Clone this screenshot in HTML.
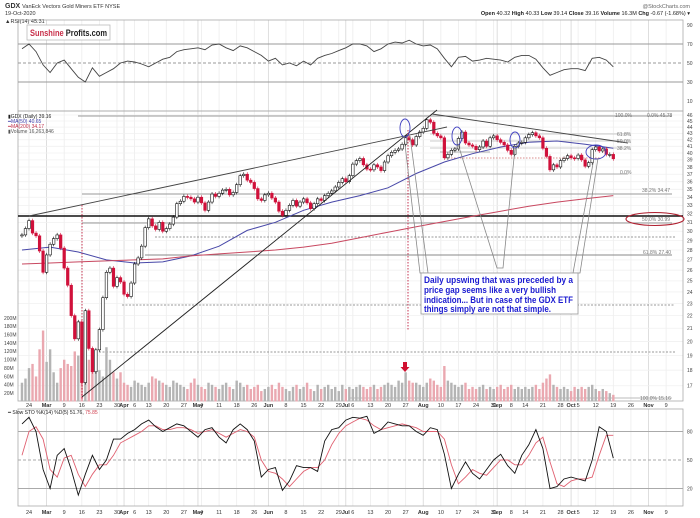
<!DOCTYPE html>
<html><head><meta charset="utf-8"><title>GDX chart</title>
<style>
html,body{margin:0;padding:0;background:#fff;}
svg{display:block;font-family:"Liberation Sans",sans-serif;}
</style></head>
<body>
<svg id="chart" width="700" height="518" viewBox="0 0 700 518" xmlns="http://www.w3.org/2000/svg">
  <rect x="0" y="0" width="700" height="518" fill="#fff"/>
  <g id="grid"></g>
  <text x="5" y="8" font-size="7" font-weight="bold" fill="#333">GDX <tspan font-weight="normal" font-size="5.5">VanEck Vectors Gold Miners ETF  NYSE</tspan></text>
  <text x="5" y="15" font-size="5.5" fill="#333">19-Oct-2020</text>
  <text x="690" y="8" font-size="5.5" fill="#666" text-anchor="end">@StockCharts.com</text>
  <text x="690" y="15" font-size="5.5" fill="#222" text-anchor="end"><tspan font-weight="bold">Open</tspan> 40.32 <tspan font-weight="bold">High</tspan> 40.33 <tspan font-weight="bold">Low</tspan> 39.14 <tspan font-weight="bold">Close</tspan> 39.16 <tspan font-weight="bold">Volume</tspan> 16.3M <tspan font-weight="bold">Chg</tspan> -0.67 (-1.68%) ▾</text>
  <text x="5" y="23" font-size="5.5" fill="#333">▲RSI(14) 45.31</text>
  <rect x="18" y="20" width="665" height="91" fill="none" stroke="#aaa" stroke-width="0.8"/>
  <rect x="18" y="111" width="665" height="290" fill="none" stroke="#aaa" stroke-width="0.8"/>
  <rect x="18" y="409" width="665" height="97" fill="none" stroke="#aaa" stroke-width="0.8"/>
  <g>
    <rect x="27" y="25" width="83" height="15" fill="#fff" stroke="#bbb" stroke-width="0.8"/>
    <text x="30" y="36" font-size="9" font-weight="bold" fill="#222" textLength="77" lengthAdjust="spacingAndGlyphs"><tspan fill="#c8304a">Sunshine</tspan> Profits.com</text>
  </g>
  <g id="rsi"></g>
  <g id="annotBack">
    <line x1="78" y1="116" x2="672" y2="116" stroke="#999" stroke-width="1"/>
    <line x1="82" y1="194" x2="672" y2="194" stroke="#999" stroke-width="1"/>
    <line x1="18" y1="216" x2="683" y2="216" stroke="#111" stroke-width="1.6"/>
    <line x1="82" y1="223" x2="672" y2="223" stroke="#999" stroke-width="1"/>
    <line x1="155" y1="237" x2="675" y2="237" stroke="#999" stroke-width="1" stroke-dasharray="2,1.5"/>
    <line x1="145" y1="255" x2="672" y2="255" stroke="#888" stroke-width="1"/>
    <line x1="122" y1="305" x2="675" y2="305" stroke="#999" stroke-width="1" stroke-dasharray="2,1.5"/>
    <line x1="92" y1="352" x2="675" y2="352" stroke="#999" stroke-width="1" stroke-dasharray="2,1.5"/>
    <line x1="350" y1="398" x2="672" y2="398" stroke="#bbb" stroke-width="1"/>
    <line x1="430" y1="134" x2="628" y2="134" stroke="#bbb" stroke-width="0.8"/>
    <line x1="430" y1="141" x2="628" y2="141" stroke="#bbb" stroke-width="0.8"/>
    <line x1="430" y1="148" x2="628" y2="148" stroke="#bbb" stroke-width="0.8"/>
    <line x1="440" y1="152" x2="490" y2="152" stroke="#999" stroke-width="0.8"/>
    <line x1="445" y1="158" x2="600" y2="158" stroke="#c66" stroke-width="0.8" stroke-dasharray="1.5,1.5"/>
    <line x1="440" y1="174" x2="628" y2="174" stroke="#999" stroke-width="0.8"/>
  </g>
  <g id="vol"></g>
  <g id="ma"></g>
  <g id="candles"></g>
  <g id="sto"></g>
  <g id="axes"></g>
  <g font-size="5">
    <text x="8" y="118" fill="#222">▮GDX (Daily) 39.16</text>
    <text x="8" y="123" fill="#3a3aa8">━MA(50) 40.65</text>
    <text x="8" y="128" fill="#c0304a">━MA(200) 34.17</text>
    <text x="8" y="133" fill="#555">▮Volume 16,263,846</text>
  </g>
  <text x="8" y="414" font-size="5" fill="#222">━ Slow STO %K(14) %D(5) 51.76, <tspan fill="#d04050">75.85</tspan></text>
  <g fill="none">
    <line x1="29" y1="216" x2="447" y2="127" stroke="#444" stroke-width="0.9"/>
    <line x1="82" y1="397" x2="437" y2="110" stroke="#222" stroke-width="0.9"/>
    <line x1="432" y1="114" x2="628" y2="143" stroke="#444" stroke-width="0.9"/>
    <line x1="82" y1="205" x2="82" y2="400" stroke="#c02040" stroke-width="0.9" stroke-dasharray="1.5,1.5"/>
    <line x1="408" y1="130" x2="408" y2="330" stroke="#c02040" stroke-width="0.9" stroke-dasharray="1.5,1.5"/>
  </g>
  <g fill="none" stroke="#4040c0" stroke-width="0.9">
    <ellipse cx="405" cy="128" rx="5" ry="9"/>
    <ellipse cx="457" cy="136" rx="5" ry="9"/>
    <ellipse cx="515" cy="140" rx="5" ry="8"/>
    <ellipse cx="596" cy="152" rx="10" ry="7"/>
  </g>
  <g fill="none" stroke="#888" stroke-width="0.8">
    <polyline points="404,136 420,273 428,273 410,136"/>
    <polyline points="458,144 497,268 503,268 515,148"/>
    <polyline points="594,158 573,273 580,273 598,158"/>
  </g>
  <g font-size="5" fill="#777">
    <text x="615" y="117">100.0%</text><text x="647" y="117">0.0% 45.78</text>
    <text x="617" y="136">61.8%</text><text x="617" y="143">50.0%</text><text x="617" y="150">38.2%</text>
    <text x="620" y="174">0.0%</text>
    <text x="642" y="192">38.2% 34.47</text>
    <text x="642" y="221">50.0% 30.99</text>
    <text x="643" y="254">61.8% 27.40</text>
    <text x="640" y="400">100.0% 15.16</text>
  </g>
  <ellipse cx="655" cy="219" rx="29" ry="6.5" fill="none" stroke="#b02030" stroke-width="1.1"/>
  <g>
    <rect x="421" y="273" width="157" height="41" fill="#fff" stroke="#999" stroke-width="0.8"/>
    <g font-size="9.3" font-weight="bold" fill="#1a1ad0">
      <text x="424" y="283" textLength="149" lengthAdjust="spacingAndGlyphs">Daily upswing that was preceded by a</text>
      <text x="424" y="293" textLength="132" lengthAdjust="spacingAndGlyphs">price gap seems like a very bullish</text>
      <text x="424" y="303" textLength="149" lengthAdjust="spacingAndGlyphs">indication... But in case of the GDX ETF</text>
      <text x="424" y="312" textLength="127" lengthAdjust="spacingAndGlyphs">things simply are not that simple.</text>
    </g>
  </g>
  <path d="M403,362 h4 v5 h2.5 l-4.5,5 l-4.5,-5 h2.5 z" fill="#d01030"/>
</svg>
<script>
const closes=[29.6,30.3,
31.2,29.8,29.5,27.9,25.8,
27.5,28.6,29.2,29.6,28.2,
26.2,24.6,22.0,20.2,21.5,
17.2,22.4,19.5,17.9,19.4,
20.9,23.5,25.8,26.2,24.5,
25.3,24.9,23.8,23.6,24.8,
26.6,27.2,28.4,30.4,
31.4,30.6,30.2,31.0,30.0,
30.3,30.8,31.6,33.2,33.5,
34.1,34.0,33.8,33.4,34.0,
33.3,32.4,33.4,34.4,34.1,
34.5,34.9,35.0,34.3,34.6,
35.6,36.8,37.0,36.2,35.9,
35.1,33.8,33.6,34.3,
34.5,33.9,33.4,32.3,31.8,
32.4,33.0,33.6,32.9,33.4,
33.8,33.3,32.6,33.2,33.8,
33.6,34.2,34.5,34.8,35.3,
35.9,36.4,36.0,36.8,
38.4,38.9,39.2,38.3,37.7,
37.6,38.3,38.0,37.5,38.7,
39.6,40.1,40.4,40.6,41.3,
42.3,42.0,41.2,42.5,43.2,
43.8,45.2,44.8,43.0,42.6,
42.3,39.3,39.8,40.4,40.6,
42.2,43.2,41.5,41.2,41.0,
40.5,40.9,41.8,41.0,42.3,
42.6,42.0,41.6,41.2,40.4,
39.8,41.0,41.5,41.6,
42.3,42.8,43.1,42.6,42.3,
40.7,39.5,37.6,38.3,38.0,
38.9,39.2,39.6,39.3,39.2,
39.7,39.0,38.1,38.6,40.5,
40.9,40.3,40.6,39.8,39.8,
39.16];
const volumes=[45,55,
80,90,60,125,170, 95,125,70,45,80, 100,90,85,120,110, 95,110,100,120,95,
75,60,130,100,70, 55,70,45,40,35, 50,45,40,35, 45,60,55,50,45, 40,35,50,45,40,
35,30,45,55,40, 35,30,45,40,35, 30,40,45,35,30, 50,45,35,40,30, 35,40,25,30,
35,40,30,45,35, 30,25,35,40,30, 35,45,30,25,40, 30,35,40,30,35, 25,40,30,35,
30,35,40,35,30, 35,40,30,35,40, 45,40,35,50,45, 70,50,45,45,40, 35,45,55,50,40,
35,85,50,45,40, 35,40,45,30,35, 30,35,40,30,35, 30,35,40,30,35, 40,30,35,30,
35,30,35,40,30, 45,55,65,40,35, 30,35,30,25,35, 30,35,30,35,40, 30,25,30,25,20, 16];
const rsiVals=[65,70,62,48,40,50,53,44,35,30,45,36,40,44,50,52,51,49,46,50,54,56,62,64,65,66,64,69,70,66,63,68,66,62,58,52,55,48,50,47,52,48,55,58,60,63,66,70,70,68,62,65,70,72,71,74,70,68,69,65,55,46,56,57,52,53,55,54,53,51,56,58,58,54,45,37,40,43,44,44,42,55,56,53,46];
const stoK=[88,95,80,40,20,55,62,40,13,35,55,40,50,72,72,78,82,88,92,85,80,84,88,86,80,74,82,84,74,68,82,88,82,70,32,40,42,18,28,44,42,42,38,70,82,84,92,95,94,96,78,82,90,88,86,86,80,76,84,82,56,20,35,48,36,30,40,50,56,44,36,55,66,82,62,20,22,30,32,30,28,50,85,80,52];
const stoD=[55,80,85,72,40,32,52,55,35,22,35,45,45,55,68,72,76,80,86,86,82,82,84,84,82,78,80,82,78,74,78,82,80,74,50,38,36,30,22,30,38,42,42,50,66,78,86,90,94,92,86,82,84,86,88,86,84,80,80,80,72,45,25,32,40,36,34,42,50,50,45,45,55,68,74,48,25,22,28,30,30,32,55,76,76];
const ma50=[28.0,28.3,27.8,27.0,26.7,26.8,27.4,28.4,30.1,31.0,32.4,33.4,34.2,35.2,37.1,38.7,39.9,40.9,41.6,41.8,41.3,40.7];
const ma200=[26.6,26.7,26.8,26.9,27.0,27.1,27.4,27.6,27.8,28.0,28.3,28.7,29.3,29.9,30.5,31.1,31.7,32.3,32.9,33.4,33.8,34.2];
const priceTicks=[46,45,44,43,42,41,40,39,38,37,36,35,34,33,32,31,30,29,28,27,26,25,24,23,22,21,20,19,18,17];
const volTicks=[200,180,160,140,120,100,80,60,40,20];
const rsiTicks=[90,70,50,30,10];
const stoTicks=[80,50,20];

const NS='http://www.w3.org/2000/svg';
function el(tag,parent){const e=document.createElementNS(NS,tag);parent.appendChild(e);return e;}
function xDay(i){return 29+(i-2)*3.52;}
function yPrice(p){return 115+(Math.log(46)-Math.log(p))*272;}
function yVol(v){return 401.5-v*0.4175;}
function yRsi(v){return 63-(v-50)*0.95;}
function ySto(v){return 460-(v-50)*0.95;}

const hol=['2020-04-10','2020-05-25','2020-07-03','2020-09-07'];
const days=[];
for(let t=Date.UTC(2020,1,20);t<=Date.UTC(2020,10,20);t+=86400000){
  const d=new Date(t);const wd=d.getUTCDay();
  if(wd===0||wd===6)continue;
  if(hol.indexOf(d.toISOString().slice(0,10))>=0)continue;
  days.push(d);
}
const months=['Jan','Feb','Mar','Apr','May','Jun','Jul','Aug','Sep','Oct','Nov','Dec'];
const grid=document.getElementById('grid');
const axes=document.getElementById('axes');
for(let i=1;i<days.length;i++){
  const d=days[i],p=days[i-1];
  const x=xDay(i);
  if(x>683)break;
  const newMonth=d.getUTCMonth()!==p.getUTCMonth();
  const newWeek=d.getUTCDay()<p.getUTCDay();
  if(!newMonth&&!newWeek)continue;
  const label=newMonth?months[d.getUTCMonth()]:String(d.getUTCDate());
  [[20,111],[111,401],[409,506]].forEach(function(r){
    const g=el('line',grid);
    
    
    g.setAttribute('x1',x);g.setAttribute('x2',x);g.setAttribute('y1',r[0]);g.setAttribute('y2',r[1]);
    g.setAttribute('stroke',newMonth?'#d6d6d6':'#ececec');g.setAttribute('stroke-width','0.8');
  });
  [407,514].forEach(function(y){
    const t=el('text',axes);
    
    
    t.setAttribute('x',x);t.setAttribute('y',y);t.setAttribute('text-anchor','middle');
    t.setAttribute('font-size','5.5');t.setAttribute('fill','#333');
    if(newMonth)t.setAttribute('font-weight','bold');
    t.textContent=label;
  });
}
priceTicks.forEach(function(p){
  const y=yPrice(p);
  const g=el('line',grid);
  
  
  g.setAttribute('x1',18);g.setAttribute('x2',683);g.setAttribute('y1',y);g.setAttribute('y2',y);
  g.setAttribute('stroke','#f0f0f0');g.setAttribute('stroke-width','0.8');
  const t=el('text',axes);
  
  
  t.setAttribute('x',687);t.setAttribute('y',y+1.8);t.setAttribute('font-size','5');t.setAttribute('fill','#444');
  t.textContent=p;
});
volTicks.forEach(function(v){
  const t=el('text',axes);
  
  
  t.setAttribute('x',4);t.setAttribute('y',yVol(v)+1.8);t.setAttribute('font-size','5');t.setAttribute('fill','#444');
  t.textContent=v+'M';
});
const rsiG=document.getElementById('rsi');
rsiTicks.forEach(function(v){
  const y=yRsi(v);
  if(v===70||v===30||v===50){
    const l=el('line',rsiG);
    
    
    l.setAttribute('x1',18);l.setAttribute('x2',683);l.setAttribute('y1',y);l.setAttribute('y2',y);
    l.setAttribute('stroke','#999');l.setAttribute('stroke-width','0.9');
    if(v===50)l.setAttribute('stroke-dasharray','3,2');
  }
  const t=el('text',axes);
  
  
  t.setAttribute('x',687);t.setAttribute('y',y+1.8);t.setAttribute('font-size','5');t.setAttribute('fill','#444');
  t.textContent=v;
});
const rsiPath=el('polyline',rsiG);


rsiPath.setAttribute('points',rsiVals.map(function(v,k){return xDay(k*2).toFixed(1)+','+yRsi(v).toFixed(1);}).join(' '));
rsiPath.setAttribute('fill','none');rsiPath.setAttribute('stroke','#444');rsiPath.setAttribute('stroke-width','0.9');
const volG=document.getElementById('vol');
volumes.forEach(function(v,i){
  const up=i===0||closes[i]>=closes[i-1];
  const r=el('rect',volG);
  
  
  r.setAttribute('x',xDay(i)-1.2);r.setAttribute('width',2.4);
  r.setAttribute('y',yVol(v));r.setAttribute('height',401.5-yVol(v));
  r.setAttribute('fill',up?'#b4b4b4':'#eaa8b0');
});
const maG=document.getElementById('ma');
[[ma50,'#4848a8','ma50-line'],[ma200,'#c84860','ma200-line']].forEach(function(s){
  const pl=el('polyline',maG);
  
  
  pl.setAttribute('points',s[0].map(function(v,k){return xDay(k*8).toFixed(1)+','+yPrice(v).toFixed(1);}).join(' '));
  pl.setAttribute('fill','none');pl.setAttribute('stroke',s[1]);pl.setAttribute('stroke-width','1');
});
const cG=document.getElementById('candles');
closes.forEach(function(c,i){
  const o=i===0?c:closes[i-1];
  const x=xDay(i);
  const up=c>=o;
  const col=up?'#111':'#d0103a';
  const yo=yPrice(o),yc=yPrice(c);
  const top=Math.min(yo,yc),h=Math.max(Math.abs(yo-yc),1);
  const w=el('line',cG);
  
  
  w.setAttribute('x1',x);w.setAttribute('x2',x);w.setAttribute('y1',top-2);w.setAttribute('y2',top+h+2);
  w.setAttribute('stroke',col);w.setAttribute('stroke-width','0.6');
  const b=el('rect',cG);
  
  
  b.setAttribute('x',x-1.3);b.setAttribute('width',2.6);b.setAttribute('y',top);b.setAttribute('height',h);
  b.setAttribute('fill',up?'#fff':col);b.setAttribute('stroke',col);b.setAttribute('stroke-width','0.6');
});
const stoG=document.getElementById('sto');
stoTicks.forEach(function(v){
  const y=ySto(v);
  const l=el('line',stoG);
  
  
  l.setAttribute('x1',18);l.setAttribute('x2',683);l.setAttribute('y1',y);l.setAttribute('y2',y);
  l.setAttribute('stroke','#aaa');l.setAttribute('stroke-width','0.9');
  if(v===50)l.setAttribute('stroke-dasharray','3,2');
  const t=el('text',axes);
  
  
  t.setAttribute('x',687);t.setAttribute('y',y+1.8);t.setAttribute('font-size','5');t.setAttribute('fill','#444');
  t.textContent=v;
});
[[stoD,'#e06070','sto-d-line'],[stoK,'#111','sto-k-line']].forEach(function(s){
  const pl=el('polyline',stoG);
  
  
  pl.setAttribute('points',s[0].map(function(v,k){return xDay(k*2).toFixed(1)+','+ySto(v).toFixed(1);}).join(' '));
  pl.setAttribute('fill','none');pl.setAttribute('stroke',s[1]);pl.setAttribute('stroke-width','0.9');
});
</script>
</body></html>
